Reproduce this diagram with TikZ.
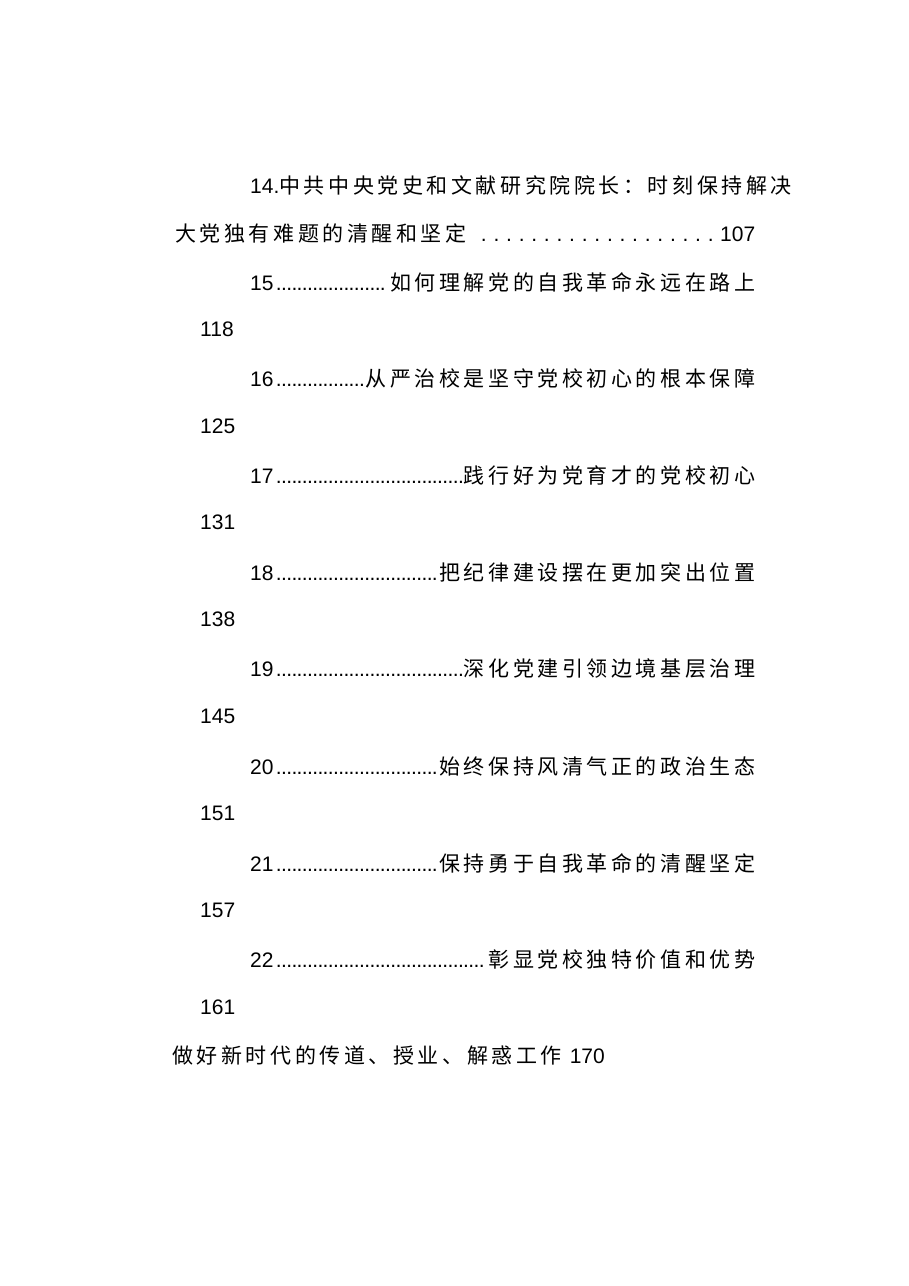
\documentclass[tikz,border=0pt]{standalone}
\usepackage{fontspec}
\setmainfont{Liberation Sans}
\newfontfamily\cjk[LetterSpace=17]{Noto Sans CJK SC}
\newcommand{\mydots}{\leaders\hbox to 5.2pt{\hss.\hss}\hfill}
\newcommand{\widedots}{\leaders\hbox to 12.6pt{\hss.\hss}\hfill}
\begin{document}
\begin{tikzpicture}[x=1pt,y=-1pt,
  t/.style={anchor=west,inner sep=0pt,font=\fontsize{21}{24}\selectfont}]
\useasboundingbox[fill=white] (0,0) rectangle (909,1286);
\node[t] (l1) at (250,185) {14.{\cjk 中共中央党史和文献研究院院长：时刻保持解决}};
\node[t] (l2) at (175,233) {\makebox[580pt][l]{{\cjk 大党独有难题的清醒和坚定}\widedots 107}};
\node[t] (e15) at (250,282) {\makebox[505pt][l]{15\mydots{\cjk 如何理解党的自我革命永远在路上}}};
\node[t] (p15) at (200,329) {118};
\node[t] (e16) at (250,378) {\makebox[505pt][l]{16\mydots{\cjk 从严治校是坚守党校初心的根本保障}}};
\node[t] (p16) at (200,426) {125};
\node[t] (e17) at (250,475) {\makebox[505pt][l]{17\mydots{\cjk 践行好为党育才的党校初心}}};
\node[t] (p17) at (200,522) {131};
\node[t] (e18) at (250,572) {\makebox[505pt][l]{18\mydots{\cjk 把纪律建设摆在更加突出位置}}};
\node[t] (p18) at (200,619) {138};
\node[t] (e19) at (250,669) {\makebox[505pt][l]{19\mydots{\cjk 深化党建引领边境基层治理}}};
\node[t] (p19) at (200,716) {145};
\node[t] (e20) at (250,766) {\makebox[505pt][l]{20\mydots{\cjk 始终保持风清气正的政治生态}}};
\node[t] (p20) at (200,813) {151};
\node[t] (e21) at (250,863) {\makebox[505pt][l]{21\mydots{\cjk 保持勇于自我革命的清醒坚定}}};
\node[t] (p21) at (200,910) {157};
\node[t] (e22) at (250,960) {\makebox[505pt][l]{22\mydots{\cjk 彰显党校独特价值和优势}}};
\node[t] (p22) at (200,1007) {161};
\node[t] (last) at (172,1055) {{\cjk 做好新时代的传道、授业、解惑工作}\hspace{8pt}170};
\end{tikzpicture}
\end{document}
